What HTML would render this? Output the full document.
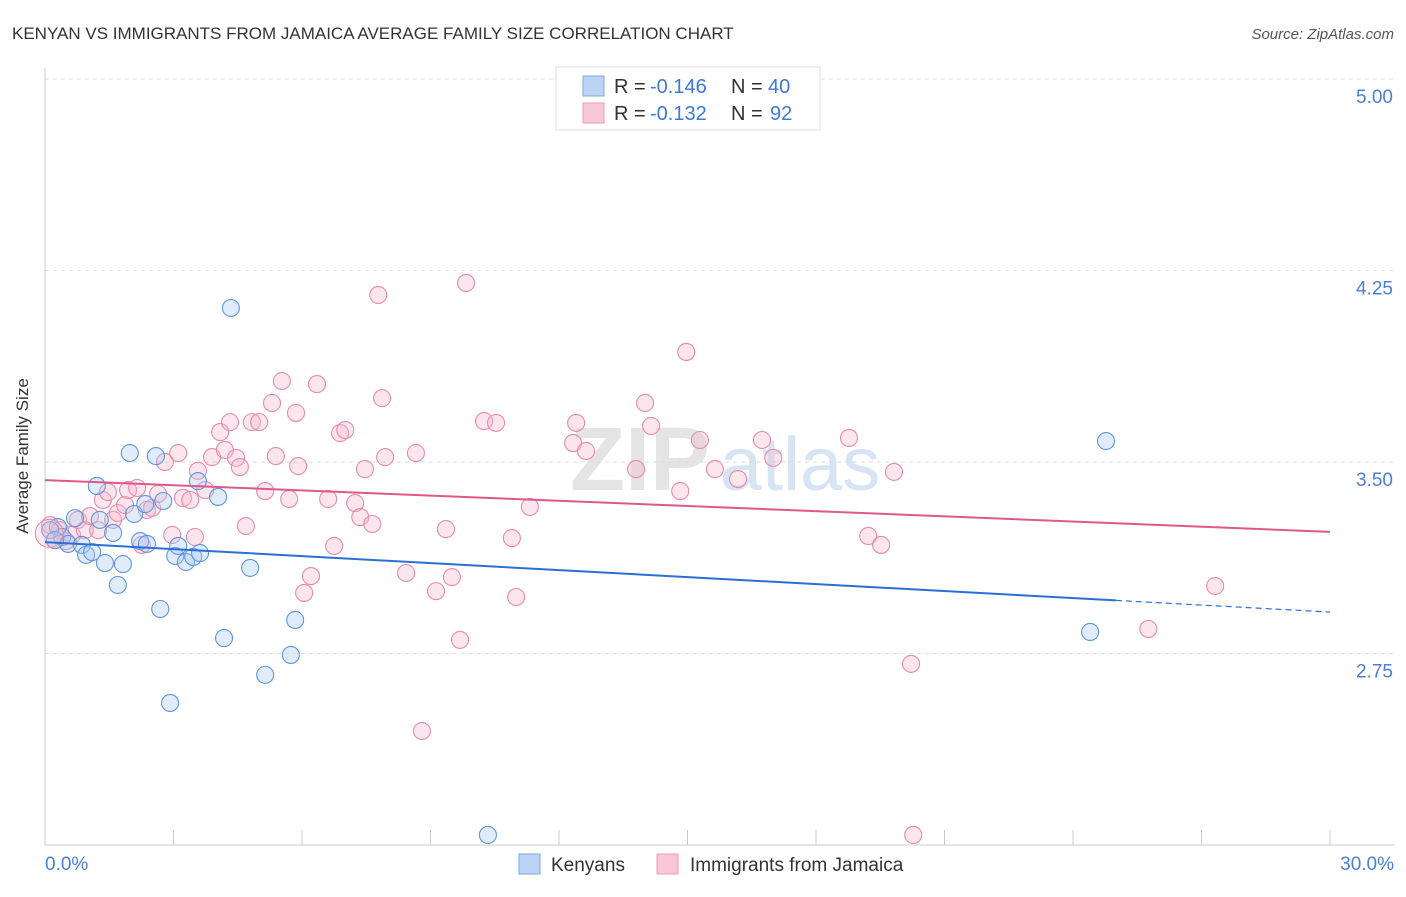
<!DOCTYPE html>
<html><head><meta charset="utf-8"><style>
body{margin:0;background:#fff;font-family:"Liberation Sans",sans-serif;}
svg text{font-family:"Liberation Sans",sans-serif;}
</style></head><body>
<svg id="chart" width="1406" height="892">
<text x="12" y="39" font-size="17" fill="#333">KENYAN VS IMMIGRANTS FROM JAMAICA AVERAGE FAMILY SIZE CORRELATION CHART</text>
<text x="1394" y="39" font-size="15" fill="#555" text-anchor="end" font-style="italic">Source: ZipAtlas.com</text>
<text x="28" y="456" font-size="17" fill="#333" text-anchor="middle" transform="rotate(-90 28 456)">Average Family Size</text>
<text x="640" y="490" font-size="90" fill="#e4e4e4" font-weight="bold" font-family="Liberation Serif" text-anchor="middle">ZIP</text>
<text x="800" y="490" font-size="76" fill="#d6e4f4" text-anchor="middle">atlas</text>
<g id="grid"></g><g id="marks"></g>
<rect x="556" y="67" width="264" height="63" fill="#fff" stroke="#ddd"/>
<rect x="583" y="76" width="21" height="20" fill="#bcd4f4" stroke="#7aa8e4"/>
<rect x="583" y="103" width="21" height="20" fill="#f9c8d8" stroke="#ec9ab8"/>
<g font-size="20">
<text x="614" y="93" fill="#333">R =</text><text x="650" y="93" fill="#3d78d8">-0.146</text>
<text x="731" y="93" fill="#333">N =</text><text x="768" y="93" fill="#3d78d8">40</text></g>
<g font-size="20">
<text x="614" y="120" fill="#333">R =</text><text x="650" y="120" fill="#3d78d8">-0.132</text>
<text x="731" y="120" fill="#333">N =</text><text x="770" y="120" fill="#3d78d8">92</text></g>
<rect x="519" y="854" width="21" height="20" fill="#bcd4f4" stroke="#7aa8e4"/>
<text x="551" y="871" font-size="19" fill="#333">Kenyans</text>
<rect x="657" y="854" width="21" height="20" fill="#f9c8d8" stroke="#ec9ab8"/>
<text x="690" y="871" font-size="19" fill="#333">Immigrants from Jamaica</text>
</svg>
<script>
const blueX=[0.30,0.40,0.54,0.70,0.86,0.96,1.10,1.21,1.28,1.40,1.59,1.70,1.82,1.98,2.08,2.34,2.22,2.38,2.59,2.69,2.76,2.92,3.04,3.11,3.29,3.46,3.57,3.62,4.04,4.18,4.34,4.79,5.14,5.74,5.84,10.34,24.40,24.77,0.12,0.23];
const blueY=[3.245,3.206,3.179,3.280,3.175,3.136,3.147,3.406,3.273,3.104,3.222,3.018,3.100,3.535,3.296,3.335,3.190,3.179,3.523,2.924,3.347,2.556,3.132,3.171,3.108,3.128,3.425,3.143,3.363,2.810,4.103,3.085,2.666,2.744,2.881,2.039,2.834,3.582,3.233,3.194];
const pinkX=[0.12,0.23,0.35,0.49,0.63,0.77,0.93,1.05,1.24,1.35,1.47,1.59,1.70,1.87,1.94,2.15,2.26,2.38,2.50,2.64,2.80,2.97,3.11,3.22,3.39,3.50,3.57,3.74,3.90,4.09,4.20,4.32,4.46,4.55,4.69,4.83,5.00,5.14,5.30,5.39,5.53,5.70,5.86,5.91,6.05,6.21,6.35,6.61,6.75,6.89,7.01,7.24,7.36,7.47,7.64,7.78,7.87,7.94,8.43,8.66,8.80,9.13,9.36,9.50,9.69,9.83,10.25,10.53,10.90,11.00,11.32,12.33,12.40,12.63,13.80,14.01,14.15,14.83,14.97,15.29,15.64,16.18,16.74,17.00,18.77,19.22,19.52,19.82,20.22,20.27,25.76,27.32];
const pinkY=[3.253,3.194,3.233,3.190,3.214,3.273,3.233,3.288,3.233,3.351,3.382,3.273,3.300,3.331,3.390,3.398,3.175,3.312,3.320,3.375,3.500,3.214,3.535,3.359,3.351,3.206,3.465,3.390,3.519,3.617,3.547,3.656,3.516,3.480,3.249,3.656,3.656,3.386,3.731,3.523,3.817,3.355,3.692,3.484,2.987,3.053,3.805,3.355,3.171,3.613,3.625,3.339,3.284,3.472,3.257,4.154,3.750,3.519,3.065,3.535,2.446,2.994,3.237,3.049,2.803,4.201,3.660,3.653,3.202,2.971,3.324,3.574,3.653,3.543,3.472,3.731,3.641,3.386,3.931,3.586,3.472,3.433,3.586,3.516,3.594,3.210,3.175,3.461,2.709,2.039,2.846,3.014];
const yTicks=[5.00,4.25,3.50,2.75];
const xTickLabels=["0.0%","30.0%"];
const blueTrend=[3.186,2.912];
const pinkTrend=[3.429,3.226];
const NS="http://www.w3.org/2000/svg";
const sx=v=>45+(v/30)*1285;
const sy=v=>79+(5-v)*255.3;
function mk(t,a,p){const e=document.createElementNS(NS,t);for(const k in a)e.setAttribute(k,a[k]);p.appendChild(e);return e;}
const grid=document.getElementById('grid'),marks=document.getElementById('marks');
yTicks.forEach(v=>{
 const l=mk('line',{x1:45,x2:1395,y1:sy(v),y2:sy(v),stroke:'#ddd','stroke-dasharray':'4,4'},grid);
 
 
 const t=mk('text',{x:1393,y:sy(v)+24,'font-size':19,fill:'#4a7fd8','text-anchor':'end'},grid);
 t.textContent=v.toFixed(2);
 
 
});
const ax=mk('line',{x1:45,x2:1395,y1:845,y2:845,stroke:'#ccc'},grid);


const ay=mk('line',{x1:45,x2:45,y1:68,y2:845,stroke:'#ccc'},grid);


for(let i=0;i<=10;i++){const l=mk('line',{x1:sx(i*3),x2:sx(i*3),y1:830,y2:845,stroke:'#ccc'},grid);
 
 }
[[0,'start',45],[30,'end',1394]].forEach((d,i)=>{const t=mk('text',{x:d[2],y:870,'font-size':19,fill:'#4a7fd8','text-anchor':d[1]},grid);t.textContent=xTickLabels[i];
 
 });
function pts(X,Y,fill,stroke,name){X.forEach((x,i)=>{const c=mk('circle',{cx:sx(x),cy:sy(Y[i]),r:8.5,fill:fill,'fill-opacity':0.35,stroke:stroke,'stroke-width':1.1},marks);
 
 });}
pts(pinkX,pinkY,'#f5b8cc','#e88aab','jamaica-point');
pts(blueX,blueY,'#a8c8f0','#5f95de','kenyan-point');
const big1=mk('circle',{cx:sx(0.1),cy:sy(3.22),r:14,fill:'#f5b8cc','fill-opacity':0.3,stroke:'#e88aab'},marks);


const bx=(blueTrend[1]-blueTrend[0])/30;
const l1=mk('line',{x1:sx(0),y1:sy(blueTrend[0]),x2:sx(25),y2:sy(blueTrend[0]+bx*25),stroke:'#2a6fd6','stroke-width':2},marks);


const l2=mk('line',{x1:sx(25),y1:sy(blueTrend[0]+bx*25),x2:sx(30),y2:sy(blueTrend[1]),stroke:'#2a6fd6','stroke-width':1.2,'stroke-dasharray':'6,4'},marks);


const l3=mk('line',{x1:sx(0),y1:sy(pinkTrend[0]),x2:sx(30),y2:sy(pinkTrend[1]),stroke:'#e0588a','stroke-width':2},marks);


</script>
</body></html>
